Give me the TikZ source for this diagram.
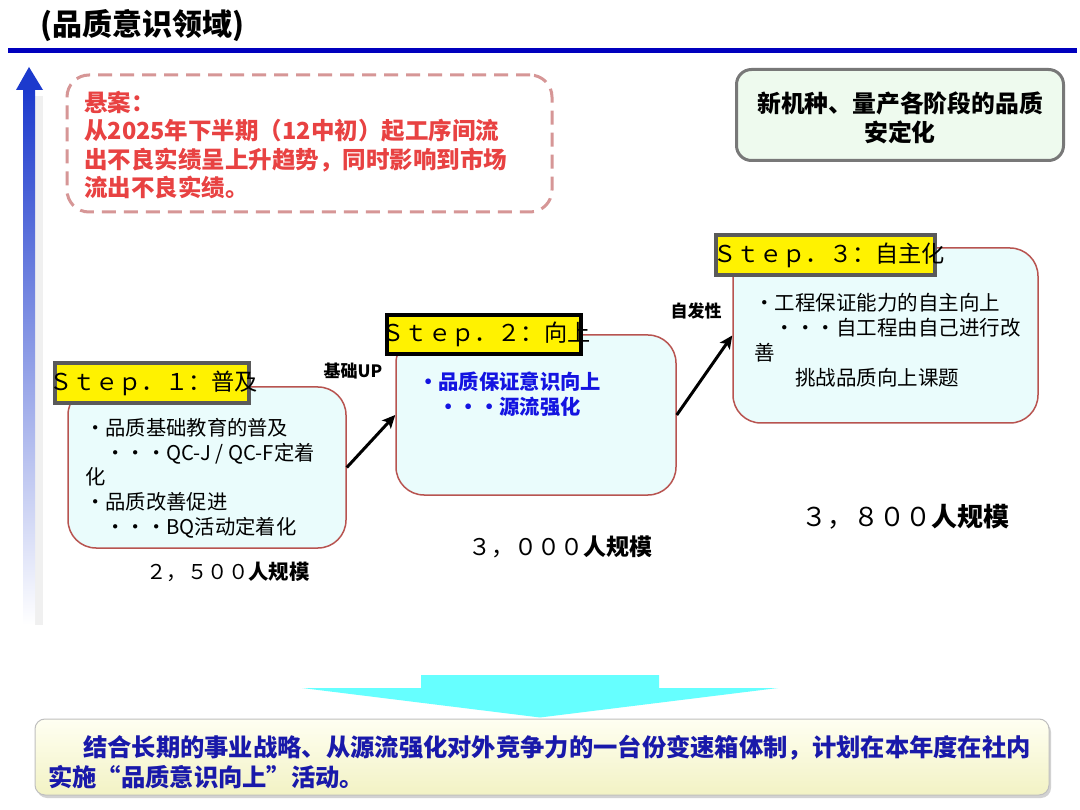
\documentclass[tikz,border=0pt]{standalone}
\usepackage{fontspec}
\setmainfont{Noto Sans CJK SC}
\usetikzlibrary{arrows.meta,shadows}
\definecolor{titleblue}{RGB}{0,0,190}
\definecolor{arrowblue}{RGB}{28,58,205}
\definecolor{dashred}{RGB}{214,150,150}
\definecolor{riskred}{RGB}{232,66,66}
\definecolor{stepborder}{RGB}{184,84,80}
\definecolor{stepfill}{RGB}{234,252,252}
\definecolor{labgray}{RGB}{90,90,90}
\definecolor{goalfill}{RGB}{238,250,238}
\definecolor{goalborder}{RGB}{120,120,120}
\definecolor{bluetext}{RGB}{20,20,225}
\definecolor{navytext}{RGB}{25,25,170}
\definecolor{cyanarrow}{RGB}{102,255,255}
\definecolor{boxtop}{RGB}{255,255,242}
\definecolor{boxbot}{RGB}{242,242,196}
\begin{document}
\begin{tikzpicture}[x=1pt,y=-1pt,
  stepbox/.style={draw=stepborder, line width=1.5pt, fill=stepfill, rounded corners=28pt, inner sep=0pt},
  steplabel/.style={fill=yellow, draw=labgray, line width=4pt, inner sep=0pt,
     font={\fontsize{23.2pt}{26pt}\selectfont}},
  content/.style={anchor=north west, align=left, inner sep=0pt,
     font={\fontsize{20.3pt}{24.8pt}\selectfont}},
  conn/.style={line width=3pt, -{Stealth[length=13pt,width=12pt,inset=3pt]}},
  connlabel/.style={inner sep=0pt, font={\bfseries\fontsize{17pt}{20pt}\selectfont}},
  scale label/.style={inner sep=0pt}
]
\useasboundingbox (0,0) rectangle (1080,810);
\fill[white] (0,0) rectangle (1080,810);

% title and rule
\node[anchor=west, inner sep=0pt, font={\bfseries\fontsize{30pt}{34pt}\selectfont}] (title) at (40,26) {(品质意识领域)};
\fill[titleblue] (8,48) rectangle (1077,53);

% left vertical arrow
\fill[black!6] (35,96) rectangle (43,625);
\shade[top color=arrowblue, bottom color=white] (23,88) rectangle (35,625);
\fill[arrowblue] (16,90) -- (29,67) -- (43,90) -- cycle;

% risk box
\node[draw=dashred, line width=3pt, dash pattern=on 14pt off 8pt, rounded corners=22pt,
      minimum width=485pt, minimum height=137pt, inner sep=0pt] (risk) at (309.5,143.5) {};
\node[content, text=riskred, font={\bfseries\fontsize{23.5pt}{28.3pt}\selectfont}] (risktext) at (84,91)
  {悬案：\\从2025年下半期（12中初）起工序间流\\出不良实绩呈上升趋势，同时影响到市场\\流出不良实绩。};

% goal box
\node[draw=goalborder, line width=3pt, fill=goalfill, rounded corners=15pt,
      minimum width=327pt, minimum height=91pt, inner sep=0pt] (goal) at (900,115) {};
\node[align=center, inner sep=0pt, font={\bfseries\fontsize{23.8pt}{29pt}\selectfont}] (goaltext) at (900,117.5)
  {新机种、量产各阶段的品质\\安定化};

% step boxes
\node[stepbox, minimum width=278pt, minimum height=161pt] (s1) at (207,467.5) {};
\node[stepbox, minimum width=280pt, minimum height=160pt] (s2) at (536,415) {};
\node[stepbox, minimum width=305pt, minimum height=175pt] (s3) at (885.5,335.5) {};

% step labels
\node[steplabel, minimum width=194pt, minimum height=40pt] (l1) at (152,383) {\makebox[0pt]{\hspace{3pt}Ｓｔｅｐ．１：普及}};
\node[steplabel, draw=black, minimum width=194pt, minimum height=39pt] (l2) at (484,334.5) {\makebox[0pt]{\hspace{4pt}Ｓｔｅｐ．２：向上}};
\node[steplabel, minimum width=219pt, minimum height=40pt] (l3) at (825.5,255) {\makebox[0pt]{\hspace{7pt}Ｓｔｅｐ．３：自主化}};

% step contents
\node[content] (c1) at (85,418)
  {・品质基础教育的普及\\　・・・QC-J / QC-F定着\\化\\・品质改善促进\\　・・・BQ活动定着化};
\node[content, text=bluetext, font={\bfseries\fontsize{20.3pt}{25pt}\selectfont}] (c2) at (418,372)
  {・品质保证意识向上\\　・・・源流强化};
\node[content, font={\fontsize{20.5pt}{25pt}\selectfont}] (c3) at (754,293)
  {・工程保证能力的自主向上\\　・・・自工程由自己进行改\\善\\　　挑战品质向上课题};

% scale numbers
\node[scale label, font={\fontsize{20.4pt}{24pt}\selectfont}] (n1) at (228,572) {２，５００\textbf{人规模}};
\node[scale label, font={\fontsize{23pt}{27pt}\selectfont}] (n2) at (560,547) {３，０００\textbf{人规模}};
\node[scale label, font={\fontsize{26pt}{30pt}\selectfont}] (n3) at (905,517) {３，８００\textbf{人规模}};

% connectors
\draw[conn] (s1.east) -- (s2.west);
\draw[conn] (s2.east) -- (s3.west);
\node[connlabel] (up) at (353,371) {基础UP};
\node[connlabel] (auto) at (696,311) {自发性};

% bottom arrow
\fill[cyanarrow] (421,675) -- (659,675) -- (659,688) -- (778,688) -- (540,717.5) -- (302,688) -- (421,688) -- cycle;

% bottom box
\node[draw=black!25, line width=1pt, top color=boxtop, bottom color=boxbot, rounded corners=10pt,
      minimum width=1014pt, minimum height=76pt, inner sep=0pt,
      drop shadow={shadow xshift=2pt, shadow yshift=-3pt, opacity=0.35}] (summary) at (542,757) {};
\node[content, text=navytext, font={\bfseries\fontsize{24.3pt}{30pt}\selectfont}] (sumtext) at (48,735)
  {\hspace{35pt}结合长期的事业战略、从源流强化对外竞争力的一台份变速箱体制，计划在本年度在社内\\实施“品质意识向上”活动。};
\end{tikzpicture}
\end{document}
